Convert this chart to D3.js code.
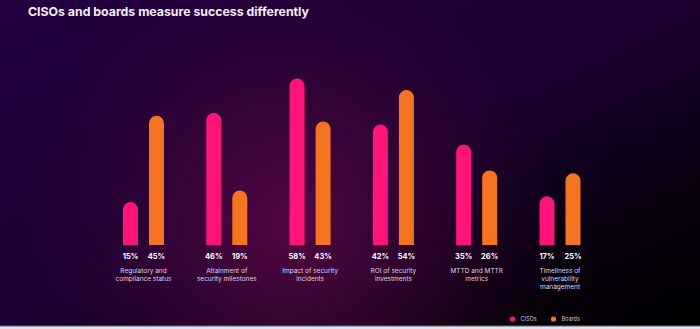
<!DOCTYPE html>
<html>
<head>
<meta charset="utf-8">
<script src="https://cdn.jsdelivr.net/npm/d3@7"></script>
<style>
  html, body { margin: 0; padding: 0; background: #dde6ee; }
  svg { display: block; }
</style>
</head>
<body>
<svg id="chart" width="700" height="329"></svg>
<script>
const categories = [
  "Regulatory and\ncompliance status",
  "Attainment of\nsecurity milestones",
  "Impact of security\nincidents",
  "ROI of security\ninvestments",
  "MTTD and MTTR\nmetrics",
  "Timeliness of\nvulnerability\nmanagement"
];
const seriesNames = ["CISOs", "Boards"];
const cisoValues = [15, 46, 58, 42, 35, 17];
const boardValues = [45, 19, 43, 54, 26, 25];
const title = "CISOs and boards measure success differently";

const colors = { CISOs: "#ff1479", Boards: "#f47421" };
const W = 700, H = 326;
const svg = d3.select("#chart");
const defs = svg.append("defs");

// background
const lg = defs.append("linearGradient").attr("id", "bgLin").attr("x1", 0).attr("y1", 0).attr("x2", 1).attr("y2", 1);
lg.append("stop").attr("offset", "0").attr("stop-color", "#230041");
lg.append("stop").attr("offset", "0.5").attr("stop-color", "#1c0032");
lg.append("stop").attr("offset", "0.78").attr("stop-color", "#0a0010");
lg.append("stop").attr("offset", "1").attr("stop-color", "#000000");
const rg = defs.append("radialGradient").attr("id", "glow").attr("gradientUnits", "userSpaceOnUse")
  .attr("cx", 290).attr("cy", 225).attr("r", 270);
rg.append("stop").attr("offset", "0").attr("stop-color", "#5c0848").attr("stop-opacity", 0.9);
rg.append("stop").attr("offset", "0.5").attr("stop-color", "#46063a").attr("stop-opacity", 0.5);
rg.append("stop").attr("offset", "1").attr("stop-color", "#300430").attr("stop-opacity", 0);
svg.append("rect").attr("width", W).attr("height", H).attr("fill", "url(#bgLin)");
svg.append("rect").attr("width", W).attr("height", H).attr("fill", "url(#glow)");
svg.append("rect").attr("y", H - 0.5).attr("width", W).attr("height", 1).attr("fill", "#6a6470");

svg.append("text").attr("x", 28).attr("y", 15.5)
  .attr("font-family", "Inter, sans-serif").attr("font-weight", 700).attr("font-size", 12.3)
  .attr("fill", "#f1eef6").text(title);

const x0 = d3.scalePoint().domain(categories).range([143.5, 560]);
const x1 = d3.scalePoint().domain(seriesNames).range([-13, 13]);
const y = d3.scaleLinear().domain([0, 100]).range([245, 245 - 287]);
const bw = 15;

const data = categories.map((c, i) => ({ cat: c, vals: [
  { s: "CISOs", v: cisoValues[i] }, { s: "Boards", v: boardValues[i] } ] }));

function pill(cx, top, bottom) {
  const r = bw / 2;
  const p = d3.path();
  p.moveTo(cx - r, bottom);
  p.lineTo(cx - r, top + r);
  p.arc(cx, top + r, r, Math.PI, 0);
  p.lineTo(cx + r, bottom);
  p.closePath();
  return p.toString();
}

const g = svg.selectAll("g.grp").data(data).enter().append("g").attr("class", "grp")
  .attr("transform", d => `translate(${x0(d.cat)},0)`);

g.selectAll("path.bar").data(d => d.vals).enter().append("path").attr("class", "bar")
  .attr("d", d => pill(x1(d.s), y(d.v), y(0)))
  .attr("fill", d => colors[d.s]);

g.selectAll("text.pct").data(d => d.vals).enter().append("text").attr("class", "pct")
  .attr("x", d => x1(d.s)).attr("y", 258.5).attr("text-anchor", "middle")
  .attr("font-family", "Inter, sans-serif").attr("font-weight", 700).attr("font-size", 7.5)
  .attr("fill", "#ffffff").text(d => d.v + "%");

g.each(function(d) {
  const t = d3.select(this).append("text").attr("text-anchor", "middle")
    .attr("font-family", "Inter, sans-serif").attr("font-size", 6.5).attr("fill", "#ddd6e4");
  d.cat.split("\n").forEach((line, i) => {
    t.append("tspan").attr("x", 0).attr("y", 272.5 + i * 8.3).text(line);
  });
});

const legendX = d3.scalePoint().domain(seriesNames).range([512.5, 553.5]);
const lgd = svg.selectAll("g.lg").data(seriesNames).enter().append("g").attr("class", "lg")
  .attr("transform", d => `translate(${legendX(d)},319)`);
lgd.append("circle").attr("r", 2.6).attr("fill", d => colors[d]);
lgd.append("text").attr("x", 8).attr("y", 2).attr("font-family", "Inter, sans-serif")
  .attr("font-size", 5.5).attr("fill", "#cfc8d6").text(d => d);
</script>
</body>
</html>
